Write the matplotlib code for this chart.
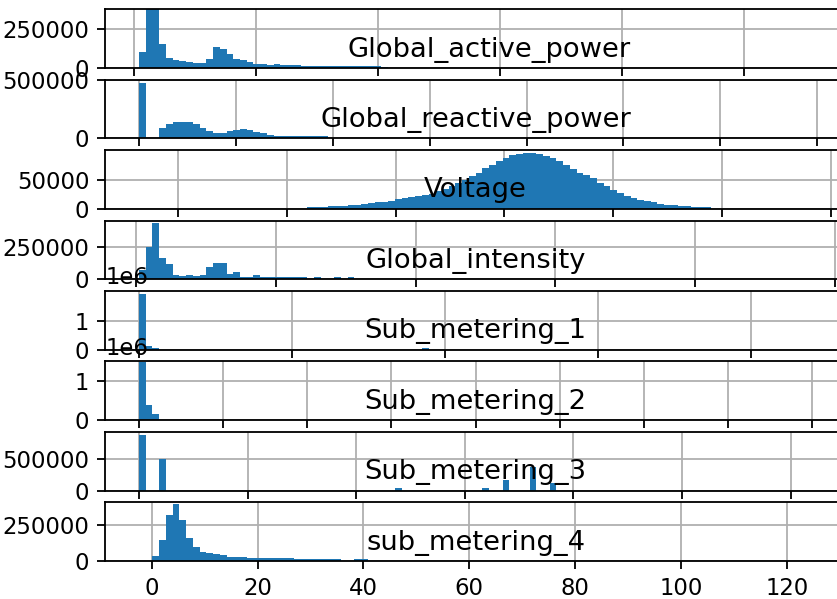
import numpy as np
import matplotlib
matplotlib.use("Agg")
import matplotlib.pyplot as plt

columns = ['Global_active_power', 'Global_reactive_power', 'Voltage',
           'Global_intensity', 'Sub_metering_1', 'Sub_metering_2',
           'Sub_metering_3', 'sub_metering_4']

# min / max of every column, the 100 histogram bins span this range
col_min = [0.076, 0.0, 223.2, 0.2, 0.0, 0.0, 0.0, -2.4]
col_max = [11.122, 1.39, 254.15, 48.4, 88.0, 80.0, 31.0, 124.83]

# bin counts (bin index -> count)
active_start = 0
active_counts = [104000, 395000, 395000, 151700, 65000, 49800, 43300, 39000,
                 30300, 30300, 58500, 134300, 123500, 86700, 60700, 49800,
                 39000, 28200, 26000, 17300, 26000, 17300, 17000, 16000,
                 15000, 13000, 12000, 12000, 11500, 11500, 11000, 11000,
                 10500, 10500, 10000, 10000, 9500]

reactive_start = 0
reactive_counts = [474000, 0, 0, 89000, 126500, 140800, 143700, 143700,
                   126500, 89000, 60400, 43100, 48900, 63200, 71800, 80500,
                   69000, 54600, 43100, 31600, 24000, 21000, 20000, 19000,
                   19000, 18000, 18000, 17000]

voltage_start = 25
voltage_counts = [3400, 3400, 3400, 5100, 5700, 5700, 6900, 7400, 8600, 9700,
                  11000, 12500, 14000, 16700, 18400, 19500, 21300, 23000, 25900,
                  30500, 34500, 38500, 44300, 50000, 55800, 61500, 69000,
                  74800, 81700, 87400, 91400, 93700, 95500, 95500, 93700,
                  90300, 86300, 81700, 74800, 67300, 61500, 56900, 51800,
                  44300, 38500, 32800, 27000, 22400, 18400, 15500, 12600,
                  11000, 9000, 7400, 6300, 5100, 4600, 4000, 3400, 2900]

intensity_start = 0
intensity_counts = [70000, 245000, 434000, 163000, 114000, 31700, 26400,
                    34400, 26400, 34400, 92500, 127000, 127000, 42400, 58200,
                    21100, 21100, 31700, 21100, 15800, 21100, 18500, 14000,
                    14000, 14000, 1500, 15000, 1500, 1500, 15000, 1500, 15000]

sm1_bins = [0, 1, 2, 42]
sm1_counts = [1930000, 140000, 70000, 60000]

sm2_bins = [0, 1, 2]
sm2_counts = [1500000, 393000, 162000]

sm3_bins = [0, 3, 38, 51, 54, 58, 61]
sm3_counts = [870000, 501000, 35000, 35000, 165000, 378000, 116000]

sm4_start = 2
sm4_counts = [33700, 147000, 320000, 397000, 282000, 161000, 94000, 65000,
              53000, 45800, 41000, 31300, 26500, 25000, 24000, 23000, 22500,
              22000, 21500, 21000, 20000, 17000, 16500, 16000, 15500, 15000,
              14500, 14000, 1500, 1000, 13000, 12000]

series = [
    (list(range(active_start, active_start + len(active_counts))), active_counts),
    (list(range(reactive_start, reactive_start + len(reactive_counts))), reactive_counts),
    (list(range(voltage_start, voltage_start + len(voltage_counts))), voltage_counts),
    (list(range(intensity_start, intensity_start + len(intensity_counts))), intensity_counts),
    (sm1_bins, sm1_counts),
    (sm2_bins, sm2_counts),
    (sm3_bins, sm3_counts),
    (list(range(sm4_start, sm4_start + len(sm4_counts))), sm4_counts),
]

y_tops = [377000, 502000, 100000, 450000, 2.02e6, 1.505e6, 922000, 407000]
y_ticks = [[0, 250000], [0, 500000], [0, 50000], [0, 250000],
           [0, 1e6], [0, 1e6], [0, 500000], [0, 250000]]
title_x = [0.5176, 0.5, 0.5, 0.5, 0.5, 0.5, 0.5, 0.5]

fig = plt.figure(figsize=(837 / 164, 599 / 164), dpi=164)
fig.subplots_adjust(left=105.3 / 837, right=846 / 837, top=0.9845,
                    bottom=0.0634, hspace=0.2)

n = len(columns)
for i, name in enumerate(columns):
    ax = fig.add_subplot(n, 1, i + 1)
    edges = np.linspace(col_min[i], col_max[i], 101)
    full = np.zeros(100)
    bins, counts = series[i]
    full[bins] = counts
    ax.hist(edges[:-1], bins=edges, weights=full, color='C0')
    ax.set_ylim(0, y_tops[i])
    ax.set_yticks(y_ticks[i])
    ax.grid(True)
    ax.set_axisbelow(True)
    ax.set_title(name, x=title_x[i], y=0, pad=5)
    if i < n - 1:
        ax.tick_params(labelbottom=False)

fig.savefig('out.png', dpi=164)
